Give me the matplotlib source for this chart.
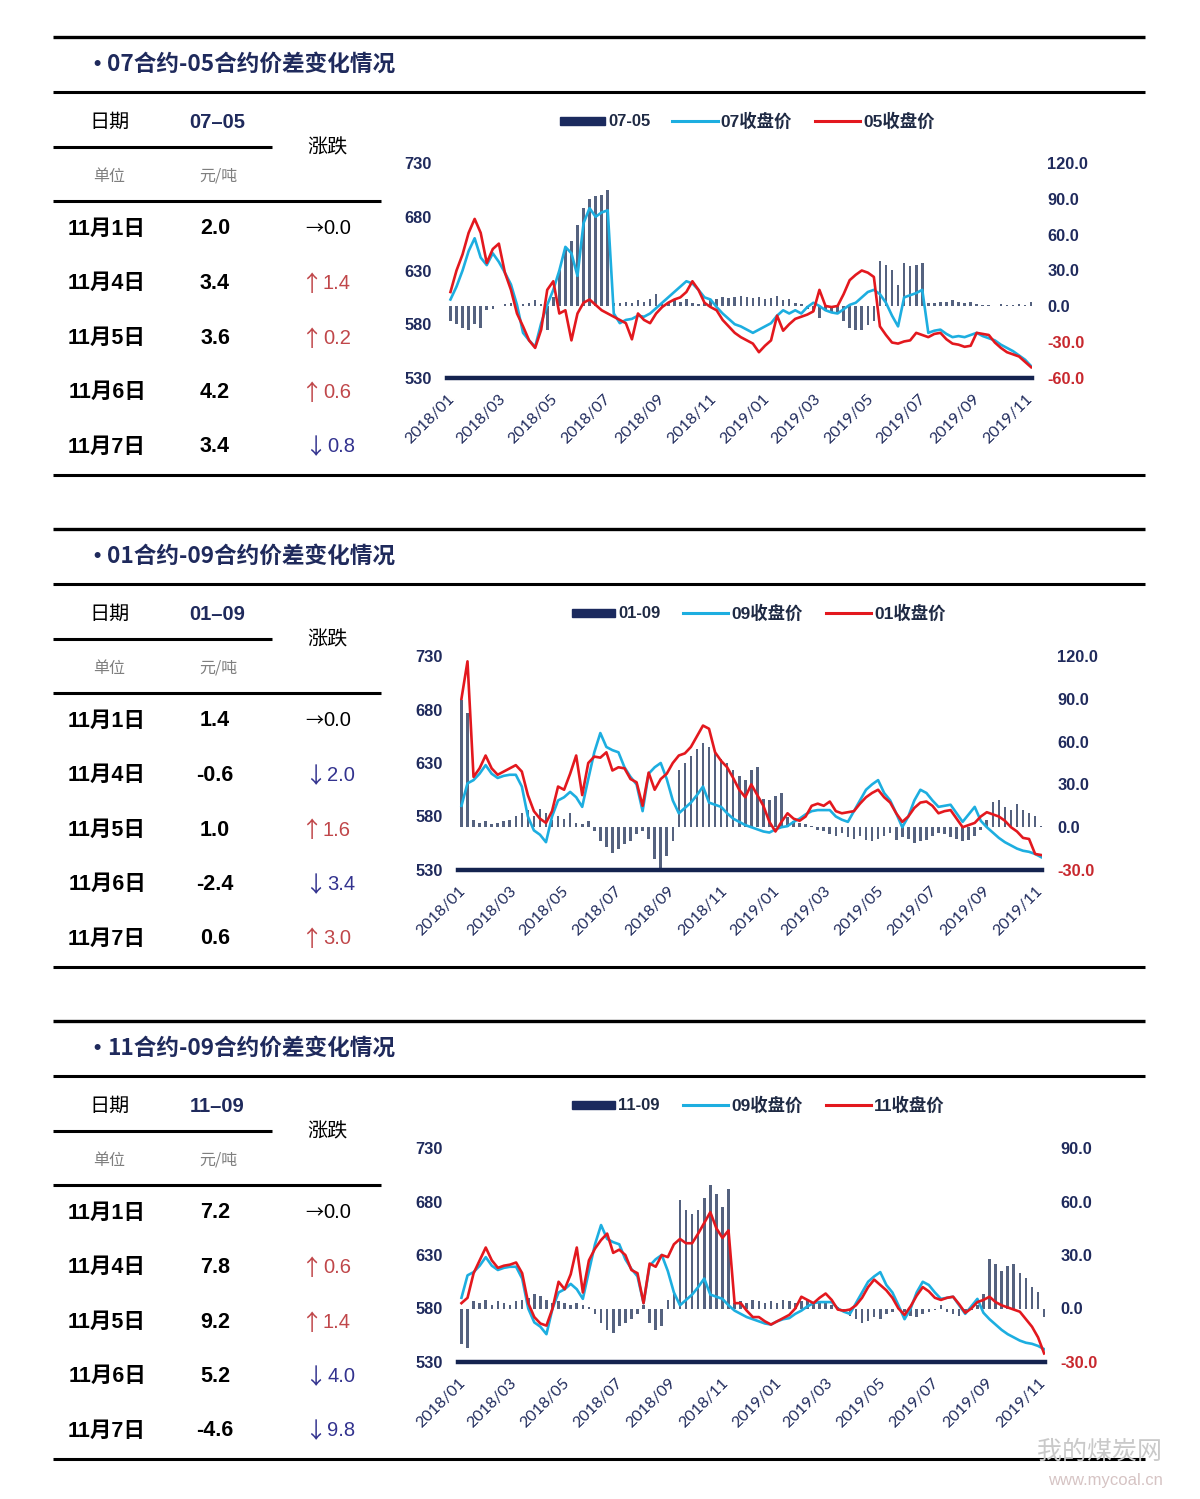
import matplotlib
matplotlib.use('Agg')
import matplotlib.pyplot as plt
from matplotlib.lines import Line2D
from matplotlib.patches import Rectangle
import pandas as pd

W, H = 1200, 1499

# ---------------- data ----------------
dates = pd.date_range('2018-01-05', periods=97, freq='7D')
month_ticks = pd.date_range('2018-01-01', '2019-11-01', freq='2MS')
month_labels = [d.strftime('%Y/%m') for d in month_ticks]

row_dates = ['11月1日', '11月4日', '11月5日', '11月6日', '11月7日']

# panel 1: 07-05
p1_vals = ['2.0', '3.4', '3.6', '4.2', '3.4']
p1_chg = [0.0, 1.4, 0.2, 0.6, -0.8]
p1_c07 = [603, 615, 630, 648, 660, 642, 635, 646, 638, 628, 617, 598, 572, 565, 559, 581, 598, 612, 630, 652,
          646, 625, 674, 688, 680, 684, 686, 590, 581, 584, 585, 588, 587, 590, 595, 600, 605, 610, 615, 620,
          618, 612, 605, 603, 596, 590, 585, 580, 578, 575, 572, 575, 578, 581, 588, 593, 590, 593, 590, 596,
          600, 597, 593, 591, 590, 594, 598, 600, 605, 610, 612, 608, 600, 588, 578, 605, 607, 609, 612, 572,
          574, 575, 571, 568, 569, 568, 570, 572, 569, 567, 565, 561, 558, 555, 551, 547, 541]
p1_c05 = [610, 630, 645, 665, 678, 665, 637, 650, 655, 628, 612, 590, 578, 565, 558, 575, 612, 620, 590, 593,
          565, 590, 600, 603, 598, 593, 590, 587, 584, 581, 566, 590, 584, 581, 590, 596, 600, 603, 605, 610,
          620, 612, 600, 596, 593, 584, 578, 572, 568, 565, 562, 554, 560, 565, 588, 574, 580, 585, 587, 589,
          592, 612, 597, 596, 597, 608, 621, 626, 630, 628, 624, 578, 570, 563, 562, 564, 565, 572, 570, 568,
          571, 572, 566, 562, 561, 559, 560, 572, 571, 570, 563, 558, 554, 552, 550, 545, 540]
p1_spread = [-12, -15, -18, -20, -15, -18, -3, -2, 0, 2, 3, 1, 2, 3, 5, 2, -20, 8, 30, 50,
             55, 68, 82, 90, 92, 93, 97, 3, 3, 4, 3, 5, 4, 6, 10, 4, 3, 5, 4, 6,
             3, 2, 4, 5, 6, 8, 7, 8, 9, 8, 7, 8, 6, 7, 9, 5, 6, 3, 2, -2,
             -4, -10, -4, -5, -6, -12, -18, -20, -20, -16, -12, 38, 35, 30, 18, 36, 34, 35, 36, 3,
             3, 4, 4, 5, 4, 3, 4, 2, 1, 1, 0, 2, 1, 1, 2, 1, 3.4]

# 09 close (shared by panels 2 and 3)
c09 = [590, 611, 614, 620, 628, 620, 616, 618, 619, 619, 608, 580, 567, 563, 556, 580, 595, 598, 603, 598,
       589, 615, 640, 658, 645, 642, 640, 626, 617, 610, 585, 620, 626, 630, 615, 595, 583, 588, 593, 600,
       608, 593, 591, 589, 583, 578, 575, 572, 570, 568, 566, 565, 568, 570, 571, 575, 578, 582, 585, 586,
       586, 586, 580, 577, 575, 585, 595, 605, 610, 614, 602, 595, 583, 570, 580, 595, 605, 602, 595, 589,
       590, 591, 583, 575, 582, 589, 576, 570, 565, 560, 556, 553, 550, 548, 547, 545, 542]

# panel 2: 01-09
p2_vals = ['1.4', '-0.6', '1.0', '-2.4', '0.6']
p2_chg = [0.0, -2.0, 1.6, -3.4, 3.0]
p2_c01 = [690, 725, 617, 625, 637, 625, 619, 622, 625, 628, 622, 600, 585, 578, 574, 585, 608, 605, 620, 637,
          600, 630, 636, 635, 640, 623, 626, 625, 615, 612, 590, 621, 605, 615, 620, 630, 637, 639, 645, 655,
          665, 662, 640, 632, 626, 616, 605, 598, 610, 600, 590, 575, 566, 575, 583, 578, 576, 580, 590, 592,
          590, 594, 585, 583, 584, 585, 592, 598, 602, 605, 598, 593, 583, 575, 580, 588, 593, 594, 590, 583,
          585, 586, 578, 570, 572, 574, 580, 584, 582, 580, 576, 570, 566, 560, 559, 545, 544]
p2_spread = [89, 80, 5, 3, 4, 2, 3, 4, 5, 8, 10, 12, 8, 13, 10, 5, 8, 6, 10, 3,
             2, 4, -3, -10, -14, -18, -15, -12, -10, -5, -3, -8, -22, -30, -20, -10, 40, 45, 50, 55,
             59, 56, 52, 48, 45, 40, 36, 33, 40, 42, 20, 19, 22, 24, 7, 4, 3, 2, 1, -2,
             -3, -5, -6, -4, -7, -8, -6, -9, -10, -8, -6, -4, -9, -7, -8, -11, -10, -9, -6, -4,
             -5, -7, -8, -10, -9, -6, -2, 5, 18, 19, 14, 12, 16, 12, 10, 8, 0.6]

# panel 3: 11-09
p3_vals = ['7.2', '7.8', '9.2', '5.2', '-4.6']
p3_chg = [0.0, 0.6, 1.4, -4.0, -9.8]
p3_c11 = [585, 590, 613, 625, 637, 625, 618, 620, 621, 623, 613, 585, 572, 566, 564, 580, 605, 598, 612, 637,
          595, 625, 636, 644, 650, 632, 635, 630, 616, 613, 585, 622, 619, 630, 628, 640, 645, 641, 641, 650,
          660, 670, 655, 646, 653, 585, 585, 578, 572, 572, 568, 565, 568, 571, 574, 580, 591, 588, 585, 590,
          594, 588, 579, 578, 579, 583, 590, 600, 607, 602, 597, 590, 580, 574, 582, 592, 600, 596, 590, 588,
          590, 591, 584, 576, 580, 586, 588, 591, 586, 583, 581, 579, 577, 570, 563, 553, 538]
p3_spread = [-20, -22, 4, 3, 5, 2, 4, 3, 2, 4, 5, 6, 8, 7, 5, 3, 4, 3, 2, 3,
             2, 1, -3, -8, -12, -14, -10, -8, -6, -3, 2, -8, -12, -10, 5, 8, 61, 55, 53, 55,
             62, 69, 64, 57, 67, 3, 4, 3, 5, 4, 3, 4, 3, 5, 4, 3, 4, 5, 3, 4,
             3, 2, 1, -2, -4, -6, -8, -7, -5, -6, -3, -2, 1, -2, -4, -5, -3, -2, -1, 2,
             -2, -3, -4, -2, -1, 2, 8, 28, 25, 21, 24, 25, 20, 17, 12, 9, -4.6]

left_ticks = [530, 580, 630, 680, 730]

# ---------------- style ----------------
NAVY = '#1F2A5C'
AXNAVY = '#14234F'
BARC = '#55627F'
BLUE = '#1DAEE0'
RED = '#E3181E'
NEG = '#C8282E'
UPC = '#C0474A'
DNC = '#33338F'
CJK = ['Noto Sans CJK SC', 'DejaVu Sans']
LAT = ['Liberation Sans', 'Noto Sans CJK SC', 'DejaVu Sans']
XT = ['Lato', 'DejaVu Sans']

fig = plt.figure(figsize=(W / 100, H / 100), dpi=100)


def fx(x):
    return x / W


def fy(y):
    return 1 - y / H


def hline(x0, x1, y, lw=2.2, color='black'):
    fig.add_artist(Line2D([fx(x0), fx(x1)], [fy(y), fy(y)], lw=lw, color=color, solid_capstyle='butt'))


def txt(x, y, s, **kw):
    fig.text(fx(x), fy(y), s, **kw)


panels = [
    dict(off=0, title='07合约-05合约价差变化情况', code='07–05', vals=p1_vals, chg=p1_chg,
         spread=p1_spread, la=p1_c07, lb=p1_c05, sl='07-05', al='07收盘价', bl='05收盘价',
         box=(447, 163, 1032, 378), rlim=(-60, 120), rticks=[-60, -30, 0, 30, 60, 90, 120],
         leg=(560, 605, 608, 672, 718, 720, 815, 860, 863)),
    dict(off=492, title='01合约-09合约价差变化情况', code='01–09', vals=p2_vals, chg=p2_chg,
         spread=p2_spread, la=c09, lb=p2_c01, sl='01-09', al='09收盘价', bl='01收盘价',
         box=(458, 656, 1042, 870), rlim=(-30, 120), rticks=[-30, 0, 30, 60, 90, 120],
         leg=(572, 615, 618, 683, 728, 731, 826, 871, 874)),
    dict(off=984, title='11合约-09合约价差变化情况', code='11–09', vals=p3_vals, chg=p3_chg,
         spread=p3_spread, la=c09, lb=p3_c11, sl='11-09', al='09收盘价', bl='11收盘价',
         box=(458, 1148, 1045, 1362), rlim=(-30, 90), rticks=[-30, 0, 30, 60, 90],
         leg=(572, 615, 618, 683, 728, 731, 826, 871, 874)),
]

for p in panels:
    o = p['off']
    # frame lines
    hline(53, 1145, 37 + o, lw=2.4)
    hline(53, 1145, 92 + o, lw=2.2)
    hline(53, 272, 147 + o, lw=2.2)
    hline(53, 381, 201 + o, lw=2.2)
    hline(53, 1145, 475 + o, lw=2.2)
    # title
    txt(97, 65 + o, '•', family=LAT, fontsize=15, fontweight='bold', color=NAVY,
        ha='center', va='center')
    txt(107, 64 + o, p['title'], family=CJK, fontsize=16.3, fontweight='bold', color=NAVY,
        ha='left', va='center')
    # table header
    txt(110, 122 + o, '日期', family=CJK, fontsize=14.5, color='black', ha='center', va='center')
    txt(217, 122 + o, p['code'], family=LAT, fontsize=14.5, fontweight='bold', color=NAVY,
        ha='center', va='center')
    txt(327, 148 + o, '涨跌', family=CJK, fontsize=14.5, color='black', ha='center', va='center')
    txt(109, 176 + o, '单位', family=CJK, fontsize=11.5, color='#7F7F7F', ha='center', va='center')
    txt(218, 176 + o, '元/吨', family=CJK, fontsize=11.5, color='#7F7F7F', ha='center', va='center')
    rows_y = [229, 283.5, 338, 392.5, 447]
    for ry, d, v, c in zip(rows_y, row_dates, p['vals'], p['chg']):
        txt(107, ry + o, d, family=LAT, fontsize=15.5, fontweight='bold', color='black',
            ha='center', va='center')
        txt(215, ry + o, v, family=LAT, fontsize=15.5, fontweight='bold', color='black',
            ha='center', va='center')
        if c > 0:
            arrow, num, col, nx = '↑', f'{c:.1f}', UPC, 323
        elif c < 0:
            arrow, num, col, nx = '↓', f'{-c:.1f}', DNC, 327
        else:
            arrow, num, col, nx = '→', f'{c:.1f}', 'black', 323
        if c == 0:
            txt(nx, ry + o, arrow, family=CJK, fontsize=13, color=col, ha='right', va='center')
        else:
            txt(nx - 1, ry + o + 1, arrow, family=CJK, fontsize=16, color=col, ha='right',
                va='center')
        txt(nx, ry + o, num, family=LAT, fontsize=14.5, color=col, ha='left', va='center')

    # legend
    lg = p['leg']
    ly = 121 + o
    fig.add_artist(Rectangle((fx(lg[0]), fy(ly + 4)), fx(lg[1] - lg[0]), 8 / H, color='#1B2A5E'))
    txt(lg[2], ly, p['sl'], family=LAT, fontsize=12, fontweight='bold', color='#1F2A44',
        ha='left', va='center')
    fig.add_artist(Line2D([fx(lg[3]), fx(lg[4])], [fy(ly), fy(ly)], lw=2.2, color=BLUE))
    txt(lg[5], ly, p['al'], family=LAT, fontsize=12.5, fontweight='bold', color='#1F2A44',
        ha='left', va='center')
    fig.add_artist(Line2D([fx(lg[6]), fx(lg[7])], [fy(ly), fy(ly)], lw=2.2, color=RED))
    txt(lg[8], ly, p['bl'], family=LAT, fontsize=12.5, fontweight='bold', color='#1F2A44',
        ha='left', va='center')

    # chart
    x0, y0, x1, y1 = p['box']
    ax = fig.add_axes([fx(x0), fy(y1), (x1 - x0) / W, (y1 - y0) / H])
    ax.bar(dates, p['spread'], width=3.0, color=BARC, zorder=2)
    ax.set_ylim(*p['rlim'])

    ax2 = ax.twinx()
    ax2.plot(dates, p['la'], color=BLUE, lw=1.9, zorder=3)
    ax2.plot(dates, p['lb'], color=RED, lw=1.9, zorder=4)
    ax2.set_ylim(530, 730)

    # spread ticks on the right, price ticks on the left
    ax.yaxis.tick_right()
    ax.yaxis.set_label_position('right')
    ax2.yaxis.tick_left()
    ax2.yaxis.set_label_position('left')

    ax.set_yticks(p['rticks'])
    ax.set_yticklabels([f'{t:.1f}' for t in p['rticks']])
    for t, lab in zip(p['rticks'], ax.get_yticklabels()):
        lab.set_color(NEG if t < 0 else NAVY)
        lab.set_fontweight('bold')
        lab.set_family(LAT)
        lab.set_fontsize(11.8)
    ax.tick_params(axis='y', length=0, pad=11, left=False, labelleft=False,
                   right=True, labelright=True)

    ax2.set_yticks(left_ticks)
    ax2.set_yticklabels([str(t) for t in left_ticks], fontsize=11.8, fontweight='bold',
                        color=NAVY, family=LAT)
    ax2.tick_params(axis='y', length=0, pad=11, right=False, labelright=False,
                    left=True, labelleft=True)

    ax.set_xlim(pd.Timestamp('2018-01-02'), pd.Timestamp('2019-11-09'))
    ax.set_xticks(month_ticks)
    ax.set_xticklabels(month_labels)
    for lab in ax.get_xticklabels():
        lab.set_rotation(45)
        lab.set_ha('right')
        lab.set_rotation_mode('anchor')
        lab.set_fontsize(11.5)
        lab.set_color(NAVY)
        lab.set_family(XT)
    ax.tick_params(axis='x', length=0, pad=10)
    ax2.tick_params(axis='x', length=0)

    for a in (ax, ax2):
        for s in ('top', 'left', 'right', 'bottom'):
            a.spines[s].set_visible(False)
        a.patch.set_visible(False)
    ax.spines['bottom'].set_visible(True)
    ax.spines['bottom'].set_linewidth(3.2)
    ax.spines['bottom'].set_color(AXNAVY)
    ax.spines['bottom'].set_zorder(5)

# watermark
txt(1100, 1452, '我的煤炭网', family=CJK, fontsize=18, color='#C9C9C9', ha='center', va='center')
txt(1105, 1480, 'www.mycoal.cn', family=LAT, fontsize=12, color='#D6C4C4', ha='center', va='center')

fig.savefig('out.png', dpi=100, facecolor='white')
